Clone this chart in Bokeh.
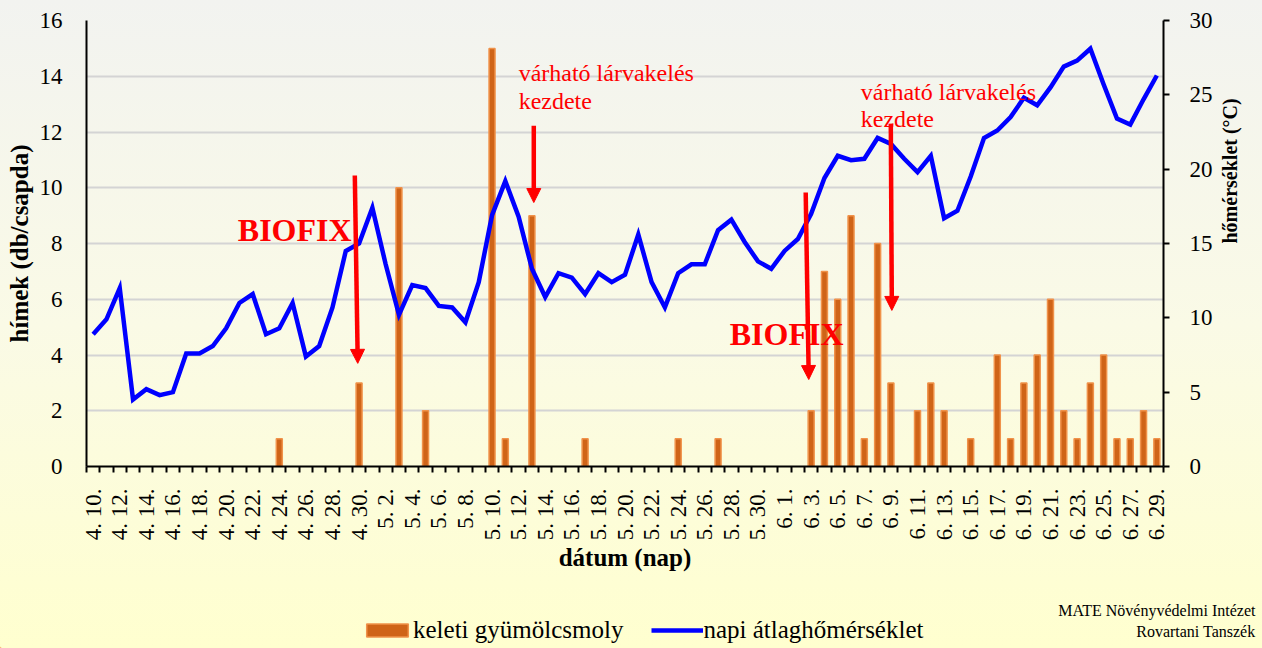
import math
import pandas as pd
from bokeh.plotting import figure
from bokeh.layouts import column
from bokeh.models import (Range1d, LinearAxis, FixedTicker, SingleIntervalTicker, Arrow,
                          NormalHead, Label, Legend, LegendItem, ColumnDataSource)
from bokeh.embed import file_html
from bokeh.resources import INLINE

# ---------------- data ----------------
dates = [f"{d.month}. {d.day}." for d in pd.date_range("2021-04-10", "2021-06-29")]

counts = [0, 0, 0, 0, 0, 0, 0, 0, 0, 0,
          0, 0, 0, 0, 1, 0, 0, 0, 0, 0,
          3, 0, 0, 10, 0, 2, 0, 0, 0, 0,
          15, 1, 0, 9, 0, 0, 0, 1, 0, 0,
          0, 0, 0, 0, 1, 0, 0, 1, 0, 0,
          0, 0, 0, 0, 2, 7, 6, 9, 1, 8,
          3, 0, 2, 3, 2, 0, 1, 0, 4, 1,
          3, 4, 6, 2, 1, 3, 4, 1, 1, 2,
          1]

temps = [8.9, 9.9, 12.0, 4.5, 5.2, 4.8, 5.0, 7.6, 7.6, 8.1,
         9.3, 11.0, 11.6, 8.9, 9.3, 11.0, 7.4, 8.1, 10.7, 14.5,
         15.0, 17.4, 13.6, 10.2, 12.2, 12.0, 10.8, 10.7, 9.7, 12.4,
         16.9, 19.2, 16.8, 13.3, 11.4, 13.0, 12.7, 11.6, 13.0, 12.4,
         12.9, 15.6, 12.4, 10.7, 13.0, 13.6, 13.6, 15.9, 16.6, 15.1,
         13.8, 13.3, 14.5, 15.3, 17.0, 19.4, 20.9, 20.6, 20.7, 22.1,
         21.7, 20.7, 19.8, 20.9, 16.7, 17.2, 19.5, 22.1, 22.6, 23.5,
         24.8, 24.3, 25.5, 26.9, 27.3, 28.1, 25.7, 23.4, 23.0, 24.7,
         26.3]

series_names = ["keleti gyümölcsmoly", "napi átlaghőmérséklet"]
biofix_dates = ["4. 30.", "6. 3."]
larva_dates = ["5. 13.", "6. 9."]
credit_lines = ["MATE Növényvédelmi Intézet", "Rovartani Tanszék"]

BAR_FILL, BAR_LINE, LINE_COLOR = "#CF6418", "#F0924A", "#0000FF"
FONT = "Liberation Serif"

idx = list(range(len(dates)))
bar_src = ColumnDataSource(dict(x=[i for i, c in zip(idx, counts) if c > 0],
                                top=[c for c in counts if c > 0]))
line_src = ColumnDataSource(dict(x=idx, y=temps))

W, H_MAIN, H_LEG = 1262, 596, 52

p = figure(width=W, height=H_MAIN, output_backend="svg", toolbar_location=None,
           x_range=Range1d(-0.5, len(dates) - 0.5), y_range=Range1d(0, 16),
           min_border_left=86, min_border_right=99, min_border_top=20,
           min_border_bottom=H_MAIN - 466)
p.extra_y_ranges = {"temp": Range1d(0, 30)}
p.background_fill_alpha = 0
p.border_fill_alpha = 0
p.outline_line_color = None

# grid
p.xgrid.visible = False
p.ygrid.grid_line_color = "#D4D4D4"
p.ygrid.grid_line_width = 2

# x axis
xa = p.xaxis[0]
xa.ticker = FixedTicker(ticks=list(range(0, len(dates), 2)),
                        minor_ticks=[i - 0.5 for i in range(len(dates) + 1)])
xa.major_label_overrides = {i: dates[i] for i in range(0, len(dates), 2)}
xa.major_label_orientation = math.pi / 2
xa.major_tick_out = 0
xa.major_tick_in = 0
xa.minor_tick_out = 6
xa.minor_tick_in = 0
xa.minor_tick_line_width = 2
xa.minor_tick_line_color = "black"
xa.axis_line_width = 2
xa.axis_line_color = "black"
xa.major_label_standoff = 16
xa.major_label_text_font = FONT
xa.major_label_text_font_size = "23px"
xa.major_label_text_color = "black"
xa.axis_label = "dátum (nap)"
xa.axis_label_text_font = FONT
xa.axis_label_text_font_style = "bold"
xa.axis_label_text_font_size = "25px"
xa.axis_label_text_color = "black"
xa.axis_label_standoff = 1

# left axis
ya = p.yaxis[0]
ya.ticker = SingleIntervalTicker(interval=2)
p.ygrid.ticker = ya.ticker
ya.major_tick_out = 0
ya.major_tick_in = 0
ya.minor_tick_line_color = None
ya.axis_line_width = 2
ya.axis_line_color = "black"
ya.major_label_standoff = 20
ya.major_label_text_font = FONT
ya.major_label_text_font_size = "23px"
ya.major_label_text_color = "black"
ya.axis_label = "hímek (db/csapda)"
ya.axis_label_text_font = FONT
ya.axis_label_text_font_style = "bold"
ya.axis_label_text_font_size = "25px"
ya.axis_label_text_color = "black"
ya.axis_label_standoff = 4

# right axis
ra = LinearAxis(y_range_name="temp", ticker=SingleIntervalTicker(interval=5))
ra.major_tick_out = 6
ra.major_tick_in = 0
ra.major_tick_line_width = 2
ra.major_tick_line_color = "black"
ra.minor_tick_line_color = None
ra.axis_line_width = 2
ra.axis_line_color = "black"
ra.major_label_standoff = 20
ra.major_label_text_font = FONT
ra.major_label_text_font_size = "23px"
ra.major_label_text_color = "black"
ra.axis_label = "hőmérséklet (°C)"
ra.axis_label_text_font = FONT
ra.axis_label_text_font_style = "bold"
ra.axis_label_text_font_size = "20px"
ra.axis_label_text_color = "black"
ra.axis_label_standoff = 14
ra.axis_label_orientation = math.pi / 2
p.add_layout(ra, "right")

# glyphs
bars = p.vbar(x="x", top="top", width=0.45, source=bar_src,
              fill_color=BAR_FILL, line_color=BAR_LINE, line_width=1.5)
line = p.line(x="x", y="y", source=line_src, y_range_name="temp",
              line_color=LINE_COLOR, line_width=4.5, line_join="miter")

# annotations
def di(s):
    return dates.index(s)

b1, b2 = di(biofix_dates[0]), di(biofix_dates[1])
l1, l2 = di(larva_dates[0]), di(larva_dates[1])

arrows = [
    (b1 - 0.32, 10.44, b1 - 0.10, 3.70),
    (l1 + 0.14, 12.22, l1 + 0.14, 9.47),
    (b2 - 0.41, 9.83, b2 - 0.18, 3.12),
    (l2 - 0.01, 12.30, l2 + 0.07, 5.60),
]
for xs, ys, xe, ye in arrows:
    p.add_layout(Arrow(end=NormalHead(size=14, fill_color="red", line_color="red", line_width=1),
                       x_start=xs, y_start=ys, x_end=xe, y_end=ye,
                       line_color="red", line_width=4.5))

def lab(fig, x, y, text, size, bold=False, color="red", align="left"):
    fig.add_layout(Label(x=x, y=y, text=text, text_font=FONT, text_font_size=size,
                         text_font_style="bold" if bold else "normal", text_color=color,
                         text_align=align, text_baseline="alphabetic"))

lab(p, b1 - 9.12, 8.47, "BIOFIX", "32px", bold=True)
lab(p, b2 - 6.12, 4.77, "BIOFIX", "32px", bold=True)
lab(p, l1 - 1.0, 14.13, "várható lárvakelés", "24px")
lab(p, l1 - 1.0, 13.13, "kezdete", "24px")
lab(p, l2 - 2.27, 13.45, "várható lárvakelés", "24px")
lab(p, l2 - 2.27, 12.45, "kezdete", "24px")

# ---- bottom strip: legend + credit ----
p2 = figure(width=W, height=H_LEG, output_backend="svg", toolbar_location=None,
            x_range=Range1d(0, W), y_range=Range1d(0, H_LEG),
            x_axis_location=None, y_axis_location=None, min_border=0,
            frame_align=False)
p2.grid.visible = False
p2.outline_line_color = None
p2.background_fill_alpha = 0
p2.border_fill_alpha = 0

# legend swatch renderers (their data lies outside the visible strip)
leg_bar = p2.vbar(x=[-100], top=[1], width=1, fill_color=BAR_FILL, line_color=BAR_LINE, line_width=1.5)
leg_line = p2.line(x=[-100, -99], y=[1, 1], line_color=LINE_COLOR, line_width=4.5)

legend = Legend(items=[LegendItem(label=series_names[0], renderers=[leg_bar]),
                       LegendItem(label=series_names[1], renderers=[leg_line])],
                location=(361, 4), orientation="horizontal",
                glyph_width=52, glyph_height=16, label_standoff=0, spacing=28,
                padding=0, margin=0, label_height=28,
                label_text_font=FONT, label_text_font_size="25px", label_text_color="black",
                background_fill_alpha=0, border_line_alpha=0)
p2.add_layout(legend)

lab(p2, W - 7, 38, credit_lines[0], "16px", color="black", align="right")
lab(p2, W - 7, 17, credit_lines[1], "16px", color="black", align="right")

layout = column(p, p2, spacing=0,
                styles={"background": "linear-gradient(to bottom, #F2F3F0 0%, #FAFAE6 50%, #FFFFCF 100%)"})

open("out.html", "w").write(file_html(layout, INLINE))
